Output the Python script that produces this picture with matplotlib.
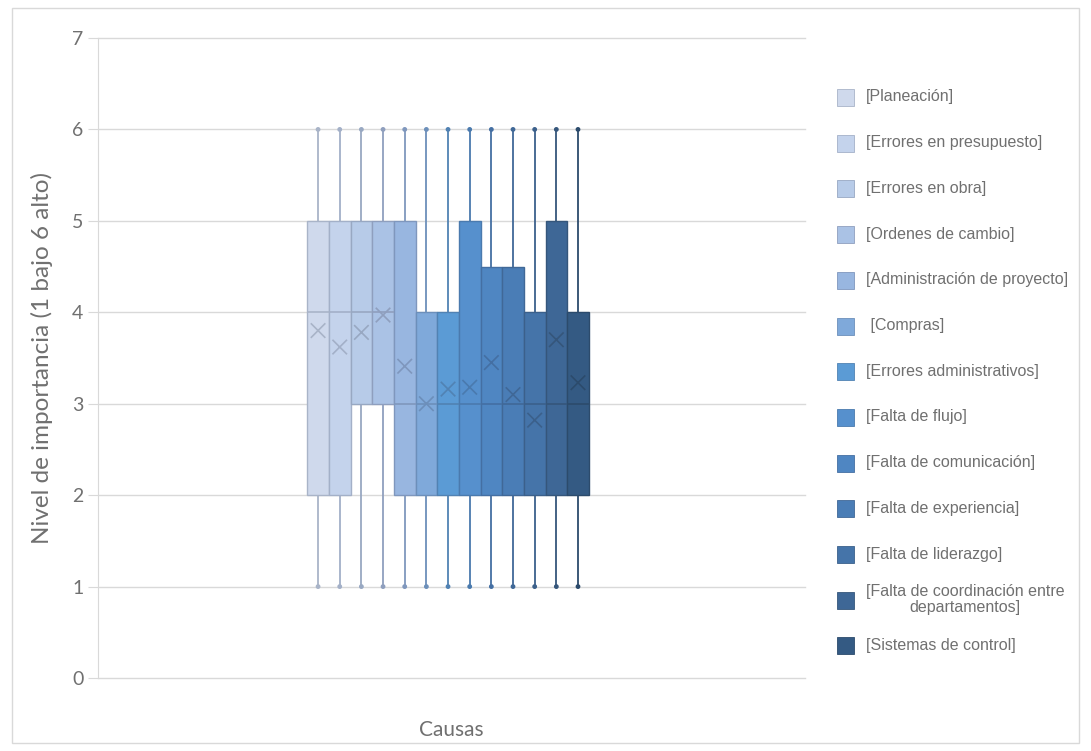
import matplotlib.pyplot as plt
import matplotlib.patches as patches
import numpy as np

# Series (one box per cause)
causas = ['[Planeación]', '[Errores en presupuesto]', '[Errores en obra]',
          '[Ordenes de cambio]', '[Administración de proyecto]', ' [Compras]',
          '[Errores administrativos]', '[Falta de flujo]', '[Falta de comunicación]',
          '[Falta de experiencia]', '[Falta de liderazgo]',
          '[Falta de coordinación entre\ndepartamentos]', '[Sistemas de control]']
minimo = [1, 1, 1, 1, 1, 1, 1, 1, 1, 1, 1, 1, 1]
q1 = [2, 2, 3, 3, 2, 2, 2, 2, 2, 2, 2, 2, 2]
mediana = [4, 4, 4, 4, 3, 3, 3, 3, 3, 3, 3, 3, 3]
q3 = [5, 5, 5, 5, 5, 4, 4, 5, 4.5, 4.5, 4, 5, 4]
maximo = [6, 6, 6, 6, 6, 6, 6, 6, 6, 6, 6, 6, 6]
media = [3.8, 3.62, 3.78, 3.97, 3.41, 3.0, 3.16, 3.18, 3.45, 3.1, 2.82, 3.7, 3.23]

colores = ['#cfd9ec', '#c4d3ec', '#b7cbe8', '#aac2e5', '#98b6e0', '#7fa9da',
           '#5b9bd5', '#5690cd', '#4f86c2', '#4a7db6', '#4574a9', '#3e6796', '#345a83']
bordes = ['#a9b4c8', '#a3b0c8', '#98a8c2', '#8f9fbe', '#7f97bd', '#6c8fba',
          '#5182b3', '#4a7aae', '#446fa3', '#406897', '#3b608b', '#35567b', '#2c4b6c']

fig = plt.figure(figsize=(10.91, 7.51), dpi=100)
fig.patches.append(patches.Rectangle((12 / 1091, 8 / 751), 1067 / 1091, 735 / 751,
                                     transform=fig.transFigure, fill=False,
                                     edgecolor='#d9d9d9', linewidth=1))

ax = fig.add_axes([98 / 1091, 73 / 751, 707 / 1091, 640 / 751])
pos = np.arange(len(causas))
ax.set_xlim(-10.16, 22.48)
ax.set_ylim(0, 7)

# grid
ax.set_yticks(range(8))
ax.yaxis.grid(True, color='#d9d9d9', linewidth=1, clip_on=False)
ax.set_axisbelow(True)
for s in ['top', 'right', 'bottom']:
    ax.spines[s].set_visible(False)
ax.spines['left'].set_color('#d9d9d9')
ax.tick_params(axis='y', colors='#d9d9d9', length=7, labelcolor='#707070', labelsize=14)
for t in ax.get_yticklabels():
    t.set_family('Lato')
ax.set_xticks([])

# whiskers
ax.vlines(pos, minimo, q1, colors=bordes, linewidth=1.3, zorder=2)
ax.vlines(pos, q3, maximo, colors=bordes, linewidth=1.3, zorder=2)
ax.scatter(pos, minimo, s=6, color=bordes, zorder=3)
ax.scatter(pos, maximo, s=6, color=bordes, zorder=3)

# boxes
ax.bar(pos, np.array(q3) - np.array(q1), bottom=q1, width=1.0, color=colores,
       edgecolor=bordes, linewidth=1, zorder=3)
ax.hlines(mediana, pos - 0.5, pos + 0.5, colors=bordes, linewidth=1.2, zorder=4)
ax.scatter(pos, media, marker='x', s=110, color=bordes, linewidths=1.2, zorder=5)

ax.set_ylabel('Nivel de importancia (1 bajo 6 alto)', fontsize=17.5, color='#707070',
              family='Lato', labelpad=14)
ax.set_xlabel('Causas', fontsize=15, color='#707070', family='Lato', labelpad=30)

# legend
y0, dy = 97, 45.7
for i, (lab, c, b) in enumerate(zip(causas, colores, bordes)):
    y = y0 + i * dy
    fig.patches.append(patches.Rectangle((837 / 1091, 1 - (y + 9) / 751), 17 / 1091, 17 / 751,
                                         transform=fig.transFigure, facecolor=c,
                                         edgecolor=b, linewidth=0.6))
    fig.text(866 / 1091, 1 - y / 751, lab, fontsize=11.5, color='#707070',
             family='Liberation Sans', va='center', ha='left', multialignment='center',
             linespacing=1.05)

fig.savefig('out.png', dpi=100, facecolor='white')
